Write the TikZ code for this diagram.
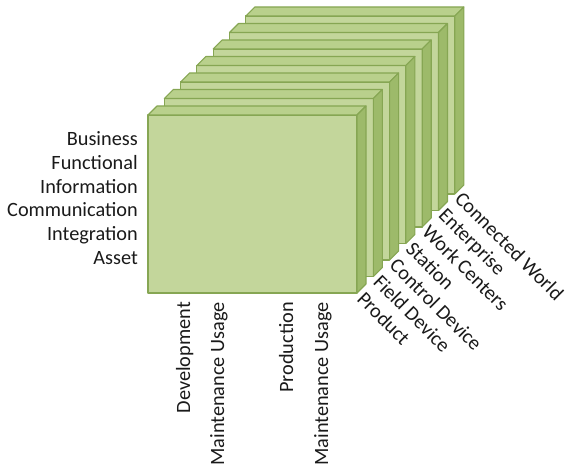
\documentclass[tikz,border=0pt]{standalone}
\usepackage{fontspec}
\setmainfont{Carlito}
\definecolor{facefront}{HTML}{C3D69B}
\definecolor{facetop}{HTML}{B9D08C}
\definecolor{faceside}{HTML}{9DBA6A}
\definecolor{edgegreen}{HTML}{86A653}
\definecolor{labeltext}{HTML}{1A1A1A}
\begin{document}
\begin{tikzpicture}[x=1pt,y=-1pt,
  boxline/.style={draw=edgegreen,line width=1.1pt,line join=round},
  lbl/.style={font=\fontsize{20.3}{24}\selectfont,text=labeltext,inner sep=0pt},
  leftlbl/.style={lbl,anchor=base east},
  botlbl/.style={lbl,rotate=90,anchor=base east},
  diaglbl/.style={lbl,rotate=-45,anchor=north west}]
\useasboundingbox (0,0) rectangle (569,470);
\foreach \k in {6,5,...,0}{
  \pgfmathsetmacro{\X}{148+16.3*\k}
  \pgfmathsetmacro{\Y}{115-16.5*\k}
  \pgfmathsetmacro{\R}{\X+209}
  \pgfmathsetmacro{\B}{\Y+178}
  \fill[facefront,boxline] (\X,\Y) rectangle (\R,\B);
  \fill[facetop,boxline] (\X,\Y) -- (\X+9,\Y-9) -- (\R+9,\Y-9) -- (\R,\Y) -- cycle;
  \fill[faceside,boxline] (\R,\Y) -- (\R+9,\Y-9) -- (\R+9,\B-9) -- (\R,\B) -- cycle;
}
\node[leftlbl] (business) at (138,146) {Business};
\node[leftlbl] (functional) at (138,169.6) {Functional};
\node[leftlbl] (information) at (138,193.2) {Information};
\node[leftlbl] (communication) at (138,216.8) {Communication};
\node[leftlbl] (integration) at (138,240.4) {Integration};
\node[leftlbl] (asset) at (138,264) {Asset};
\node[botlbl] (development) at (190,302) {Development};
\node[botlbl] (maint1) at (224,302) {Maintenance Usage};
\node[botlbl] (production) at (293,302) {Production};
\node[botlbl] (maint2) at (328,302) {Maintenance Usage};
\node[diaglbl] (product) at (366,290) {Product};
\node[diaglbl] (fielddevice) at (382.3,273.3) {Field Device};
\node[diaglbl] (controldevice) at (398.6,256.6) {Control Device};
\node[diaglbl] (station) at (414.9,239.9) {Station};
\node[diaglbl] (workcenters) at (431.2,223.2) {Work Centers};
\node[diaglbl] (enterprise) at (447.5,206.5) {Enterprise};
\node[diaglbl] (connectedworld) at (463.8,189.8) {Connected World};
\end{tikzpicture}
\end{document}
